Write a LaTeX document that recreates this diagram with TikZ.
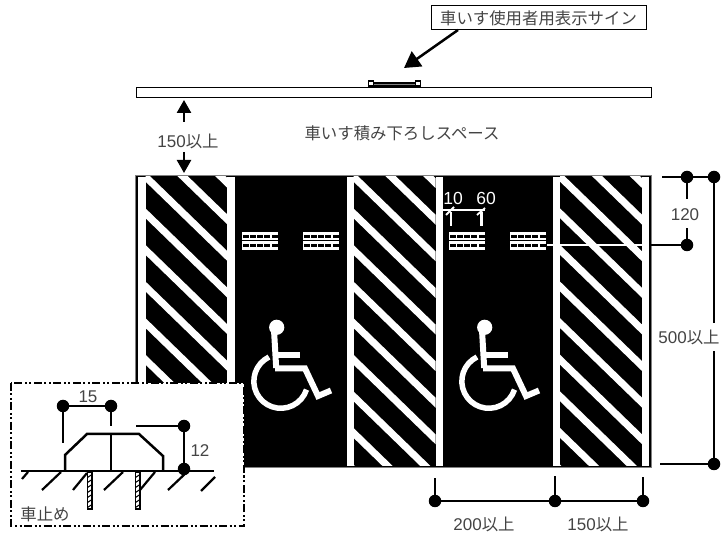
\documentclass[tikz,border=0pt]{standalone}
\usepackage{fontspec}
\setmainfont{Liberation Sans}
\newfontfamily\jp{Noto Sans CJK JP}
\usetikzlibrary{arrows.meta}
\definecolor{txt}{HTML}{444444}
\tikzset{
  dimdot/.style={circle,fill=black,draw=none,minimum size=12.5pt,inner sep=0pt},
  dimline/.style={line width=2.5pt,black},
  lbl/.style={font=\fontsize{17pt}{18pt}\selectfont,text=txt,inner sep=0pt},
  wlbl/.style={font=\fontsize{17.5pt}{18pt}\selectfont,text=white,inner sep=0pt},
  stripe/.style={line width=7.1pt,white},
  wbar/.style={fill=white,draw=none},
  bigarrow/.style={line width=2.5pt,-{Triangle[length=16pt,width=18pt]}},
  midarrow/.style={line width=2.5pt,-{Triangle[length=13pt,width=14pt]}},
  chair/.style={line width=6pt,white},
}
\newcommand{\ja}[1]{{\jp\fontsize{16.4pt}{18pt}\selectfont #1}}
\newcommand{\brick}[2]{%
  \fill[white] (#1,#2) rectangle ++(36,18);
  \fill[black] (#1,#2+8.2) rectangle ++(36,1.1);
  \foreach \r in {2.8,11.8}{
    \foreach \c in {0.7,7.9,15.1,22.3,29.5}{
      \fill[black] (#1+\c,#2+\r) rectangle ++(6,3.2);
    }
  }
}
\newcommand{\wheelchair}[1]{%
  \begin{scope}[xshift=#1pt]
    \fill[white] (276.7,327.3) circle (7.6);
    \draw[chair] (274,330) -- (276.2,368);
    \draw[chair] (277,355.5) -- (299.5,355.5);
    \draw[chair,line join=miter] (275,368.5) -- (305,368.5) -- (318,396) -- (331,390.5);
    \draw[white,line width=5.5pt] (269,357) arc[start angle=244,end angle=18,radius=27];
  \end{scope}
}
\begin{document}
\begin{tikzpicture}[x=1pt,y=-1pt]
\useasboundingbox (0,0) rectangle (726,534);
% sign bar
\draw[line width=1.9pt,fill=white] (136.5,87.5) rectangle (651.5,97.5);
\draw[line width=1.6pt,fill=gray] (371,83) rectangle (418,86);
\node[draw=black,line width=1.8pt,fill=white,minimum size=5pt,inner sep=0pt] (signL) at (371,83.5) {};
\node[draw=black,line width=1.8pt,fill=white,minimum size=5pt,inner sep=0pt] (signR) at (418,83.5) {};
\node[draw=black,line width=1pt,minimum width=215pt,minimum height=24pt,lbl,inner sep=0pt] (signlabel) at (538.5,18) {\ja{車いす使用者用表示サイン}};
\coordinate (signtip) at (404,68);
\draw[bigarrow] (458,30) -- (signtip);
% space
\node[lbl] (space) at (402,133) {\ja{車いす積み下ろしスペース}};
\node[lbl] (w150) at (188,141) {150\ja{以上}};
\coordinate (a1) at (184,100); \coordinate (a2) at (184,173);
\draw[midarrow] (184,122) -- (a1);
\draw[midarrow] (184,152) -- (a2);
% parking surface
\fill[black] (135,175) rectangle (651,467);
\draw[gray,line width=.6pt] (135,175) rectangle (651,467);
\foreach \xa in {145.5,353.5,560}{
  \begin{scope}
    \clip (\xa,177) rectangle (\xa+82,466);
    \foreach \k in {-2,...,8}{
      \draw[stripe] (\xa-5,176.7+36.6*\k-4.85) -- (\xa+90,176.7+36.6*\k+87.3);
    }
  \end{scope}
}
\foreach \xa in {138.3,227.3,346.5,435.5,553,642}{
  \fill[wbar] (\xa,177) rectangle (\xa+7.2,466);
}
\brick{242}{232}
\brick{303}{232}
\brick{449}{232}
\brick{510}{232}
\wheelchair{0}
\wheelchair{208}
% 10 60
\node[wlbl] (n10) at (453,198) {10};
\node[wlbl] (n60) at (486,198) {60};
\draw[white,line width=1.6pt] (443,210) -- (485,210);
\draw[white,line width=2.4pt] (451,212) -- (451,226) (481.5,212) -- (481.5,226);
\draw[white,line width=1.8pt] (446,215) -- (454,207) (477,215) -- (485,208);
% right dims
\node[dimdot] (r1) at (687,177) {};
\node[dimdot] (r2) at (714,177) {};
\node[dimdot] (r3) at (687,245) {};
\node[dimdot] (r4) at (714,464) {};
\coordinate (r0) at (662,177);
\coordinate (r5) at (649,245);
\coordinate (r6) at (660,464);
\coordinate (r7) at (547,245);
\draw[dimline] (r0) -- (r2);
\draw[dimline] (r2) -- (r4);
\draw[dimline] (r6) -- (r4);
\draw[dimline] (r5) -- (r3);
\draw[white,line width=1.5pt] (r7) -- (r5);
\draw[dimline] (r1) -- (687,199);
\draw[dimline] (r3) -- (687,228);
\node[lbl] (n120) at (685,215) {120};
\node[lbl,fill=white,minimum height=28pt] (n500) at (689,337) {500\ja{以上}};
% bottom dims
\node[dimdot] (b1) at (435,501) {};
\node[dimdot] (b2) at (555,501) {};
\node[dimdot] (b3) at (643,501) {};
\draw[dimline] (b1) -- (b3);
\draw[dimline] (b1) -- (435,478);
\draw[dimline] (b2) -- (555,476);
\draw[dimline] (b3) -- (643,477);
\node[lbl] (n200) at (484,524) {200\ja{以上}};
\node[lbl] (n150) at (598,524) {150\ja{以上}};
% inset
\draw[black,line width=2pt,fill=white,dash pattern=on 8pt off 2.5pt on 2pt off 2.5pt on 2pt off 2.5pt] (11,383) rectangle (244,526);
\draw[line width=2.5pt] (21,471) -- (214,471);
\draw[line width=2.5pt] (65,471) -- (65,455) -- (87,434) -- (139,434) -- (163,456) -- (163,471);
\draw[line width=2.5pt] (111,434) -- (111,471);
\foreach \xa/\ya/\xb/\yb in {22/479/28/472,42/490/61/472,73/490/87/473,104/490/123/472,140/490/155/472,168/490/187/472,201/491/215/477}{
  \draw[line width=2.2pt] (\xa,\ya) -- (\xb,\yb);
}
\foreach \bx in {87.5,135.5}{
  \draw[line width=1.8pt,fill=white] (\bx,472) rectangle (\bx+4.5,509);
  \foreach \yy in {476,481,...,506}{
    \draw[line width=1pt] (\bx,\yy+1.5) -- (\bx+4.5,\yy-1.5);
  }
}
\node[dimdot] (i1) at (63,406) {};
\node[dimdot] (i2) at (111,406) {};
\node[dimdot] (i3) at (184,426) {};
\node[dimdot] (i4) at (184,469) {};
\draw[dimline] (i1) -- (i2);
\draw[dimline] (i1) -- (63,443);
\draw[dimline] (i2) -- (111,426);
\draw[dimline] (136,426) -- (i3);
\draw[dimline] (i3) -- (i4);
\node[lbl] (n15) at (88,397) {15};
\node[lbl] (n12) at (200,451) {12};
\node[lbl] (tomeru) at (45,514) {\ja{車止め}};
\end{tikzpicture}
\end{document}
